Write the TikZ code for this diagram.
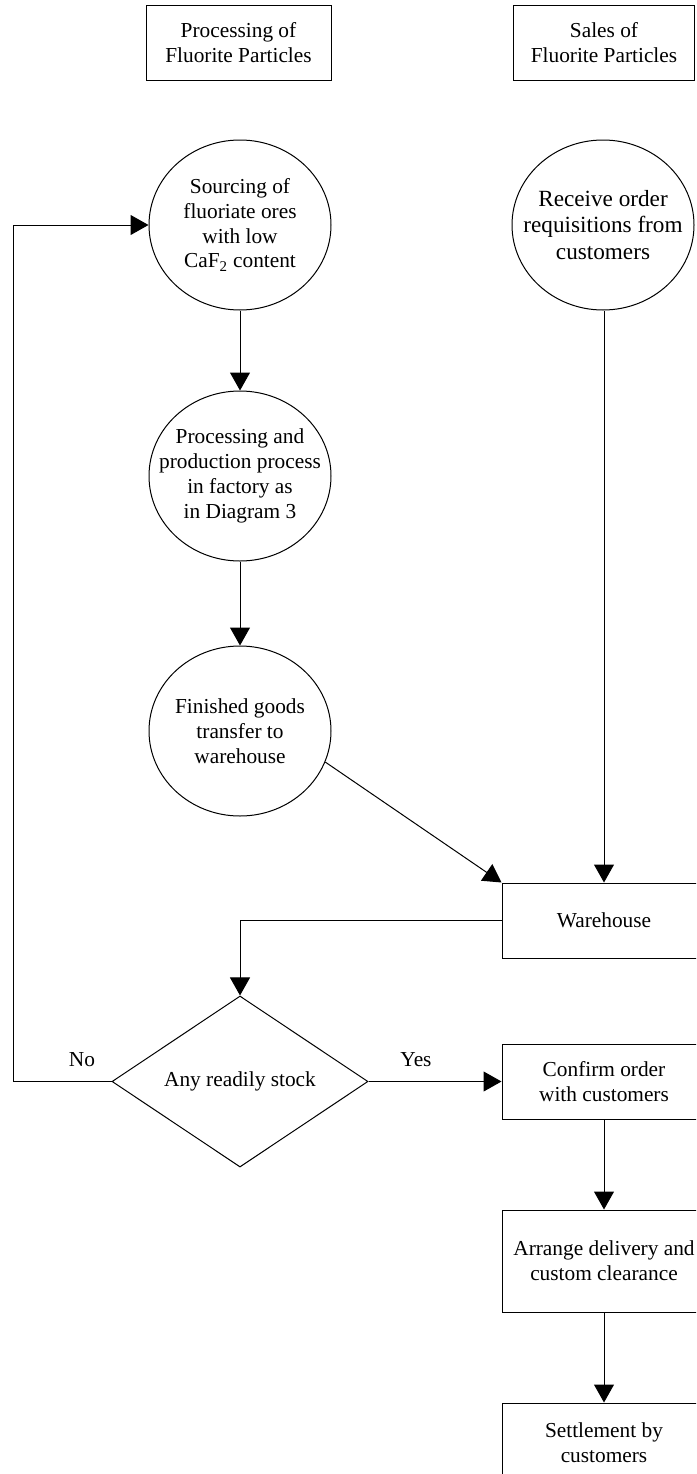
\documentclass[tikz,border=0pt]{standalone}
\usepackage{fontspec}
\setmainfont{Liberation Serif}
\usetikzlibrary{shapes.geometric,arrows.meta}

\tikzset{every picture/.style={line width=0.75pt}}

\begin{document}
\begin{tikzpicture}[x=0.75pt,y=0.75pt,yscale=-1,xscale=1,
  font=\fontsize{16}{18.6}\selectfont,
  head/.style={draw, minimum width=135.75pt, minimum height=56.25pt, inner sep=0pt, align=center},
  stage/.style={draw, ellipse, minimum width=136.5pt, minimum height=127.5pt, inner xsep=-15pt, inner ysep=0pt, align=center},
  box/.style={draw, minimum width=153pt, minimum height=56.25pt, inner sep=0pt, align=center},
  query/.style={draw, diamond, minimum width=192pt, minimum height=113.25pt, inner sep=0pt, align=center},
  flow/.style={-{Triangle[length=13.5pt,width=15pt]}}]
%set diagram size 696 x 1474, right column runs off the page
\useasboundingbox (0,0) rectangle (696,1474);
\clip (0,0) rectangle (696,1474);

%Shape: Rectangle (headers)
\node [head, minimum width=138.75pt] (hproc) at (238.5,42.5) {Processing of\\Fluorite Particles};
\node [head] (hsale) at (604,42.5) {Sales of\\Fluorite Particles};

%Shape: Ellipse (processing column)
\node [stage] (src) at (240,225) {Sourcing of\\fluoriate ores\\with low\\CaF\textsubscript{2} content};
\node [stage] (proc) at (240,476) {Processing and\\production process\\in factory as\\in Diagram 3};
\node [stage] (fin) at (240,731) {Finished goods\\transfer to\\warehouse};

%Shape: Ellipse (sales column)
\node [stage, font=\fontsize{17.4}{20}\selectfont] (ord) at (603,225) {Receive order\\requisitions from\\customers};

%Shape: Rectangle
\node [box] (wh) at (604,920.5) {Warehouse};

%Shape: Diamond
\node [query] (stock) at (240,1081.5) {Any readily stock};

%Shape: Rectangle
\node [box] (conf) at (604,1081.5) {Confirm order\\with customers};
\node [box, minimum height=76.5pt] (arr) at (604,1261) {Arrange delivery and\\custom clearance};
\node [box, minimum height=60pt] (set) at (604,1443) {Settlement by\\customers};

% Text Node
\node (no) at (82,1060) {No};
\node (yes) at (416,1060) {Yes};

\coordinate (back) at (13,1081.5);

%Straight Lines
\draw [flow] (src) -- (proc);
\draw [flow] (proc) -- (fin);
\draw [flow] (fin.-20) -- (wh.north west);
\draw [flow] (ord.south -| wh.north) -- (wh);
\draw [flow] (wh.west) -| (stock.north);
\draw [flow] (stock.west) -- (back) |- (src.west);
\draw [flow] (stock.east) -- (conf.west);
\draw [flow] (conf) -- (arr);
\draw [flow] (arr) -- (set);

\end{tikzpicture}
\end{document}
